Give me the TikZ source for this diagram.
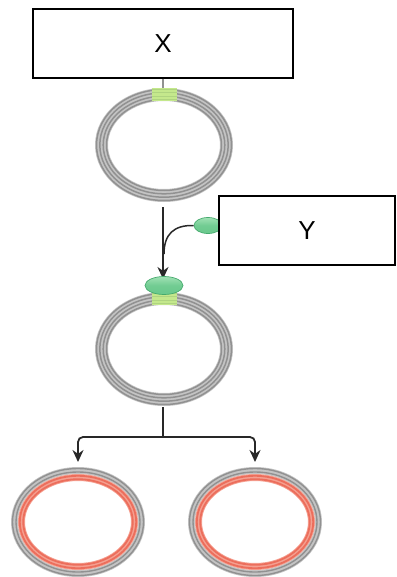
\documentclass[tikz,border=0pt]{standalone}
\usepackage{fontspec}
\setmainfont{Liberation Sans}
\usetikzlibrary{arrows.meta,shapes.geometric}
\definecolor{ringdark}{RGB}{145,145,145}
\definecolor{ringlight}{RGB}{196,196,196}
\definecolor{site}{RGB}{196,232,140}
\definecolor{siteline}{RGB}{175,212,128}
\definecolor{protein}{RGB}{105,200,140}
\definecolor{proteinlight}{RGB}{160,225,180}
\definecolor{proteinedge}{RGB}{70,170,110}
\definecolor{newstrand}{RGB}{236,110,92}
\definecolor{newstrandlight}{RGB}{245,160,145}
\definecolor{arrowcol}{RGB}{40,40,40}
\tikzset{
  label box/.style={draw=black, line width=1.5pt, fill=white, font=\fontsize{26}{31}\selectfont},
  flow/.style={draw=arrowcol, line width=1.8pt, -{Stealth[length=12pt,width=11pt]}},
  flowplain/.style={draw=arrowcol, line width=1.8pt},
  protein blob/.style={ellipse, draw=proteinedge, line width=0.7pt, inner sep=0pt,
    top color=proteinlight, bottom color=protein, middle color=protein!85!proteinlight},
}
% a double-stranded circle drawn as a grey band with four strands
\newcommand{\plasmid}[3]{% centre, rx, ry
  \fill[ringlight, even odd rule] #1 ellipse ({#2+6.5} and {#3+6.5}) #1 ellipse ({#2-6.5} and {#3-6.5});
  \foreach \d in {-5,-1.7,1.7,5}
    \draw[ringdark, line width=1.5pt] #1 ellipse ({#2+\d} and {#3+\d});
}
% a daughter circle: outer grey strands, inner red new strands
\newcommand{\daughter}[3]{%
  \fill[ringlight, even odd rule] #1 ellipse ({#2+7} and {#3+7}) #1 ellipse ({#2} and {#3});
  \foreach \d in {5.5,2}
    \draw[ringdark, line width=1.4pt] #1 ellipse ({#2+\d} and {#3+\d});
  \fill[newstrandlight, even odd rule] #1 ellipse ({#2} and {#3}) #1 ellipse ({#2-7} and {#3-7});
  \foreach \d in {-1.8,-5.2}
    \draw[newstrand, line width=1.8pt] #1 ellipse ({#2+\d} and {#3+\d});
}
\begin{document}
\begin{tikzpicture}[x=1pt,y=-1pt]
\useasboundingbox (0,0) rectangle (396,577);

% top box and its link to the first circle
\node[label box, minimum width=260pt, minimum height=69pt] (X) at (163,43.5) {X};
\coordinate (c1top) at (163,88);
\draw[ringdark, line width=1.4pt] (X.south) -- (c1top);

% first circle with its site
\plasmid{(164,145)}{62.5}{50.5}
\fill[site] (152,88) rectangle (177,101);
\foreach \d in {-5,-1.7,1.7,5}
  \draw[siteline, line width=0.7pt] (152,94.5+\d) -- (177,94.5+\d);
\coordinate (c1bot) at (163,207);

% binding step
\coordinate (c2top) at (163,279);
\draw[flow] (c1bot) -- (c2top);
\node[protein blob, minimum width=28pt, minimum height=16pt] (p1) at (208,225.5) {};
\draw[flowplain, line width=1.5pt] (p1.west) .. controls (174,225) and (164,234) .. (164,254);
\node[label box, minimum width=176pt, minimum height=69pt] (Y) at (307,230.5) {Y};

% second circle with bound protein
\plasmid{(164,349)}{62.5}{50.5}
\fill[site] (152,292) rectangle (177,305);
\foreach \d in {-5,-1.7,1.7,5}
  \draw[siteline, line width=0.7pt] (152,298.5+\d) -- (177,298.5+\d);
\node[protein blob, minimum width=38pt, minimum height=18pt] (p2) at (164,285.5) {};

% branching into two daughters
\coordinate (c2bot) at (163,407);
\coordinate (fork) at (163,437);
\coordinate (dl) at (78,462);
\coordinate (dr) at (255,462);
\draw[flowplain] (c2bot) -- (fork);
\draw[flow, rounded corners=5pt] (fork) -- (78,437) -- (dl);
\draw[flow, rounded corners=5pt] (fork) -- (255,437) -- (dr);

\daughter{(78,522)}{60}{48}
\daughter{(255,522)}{60}{48}
\end{tikzpicture}
\end{document}
